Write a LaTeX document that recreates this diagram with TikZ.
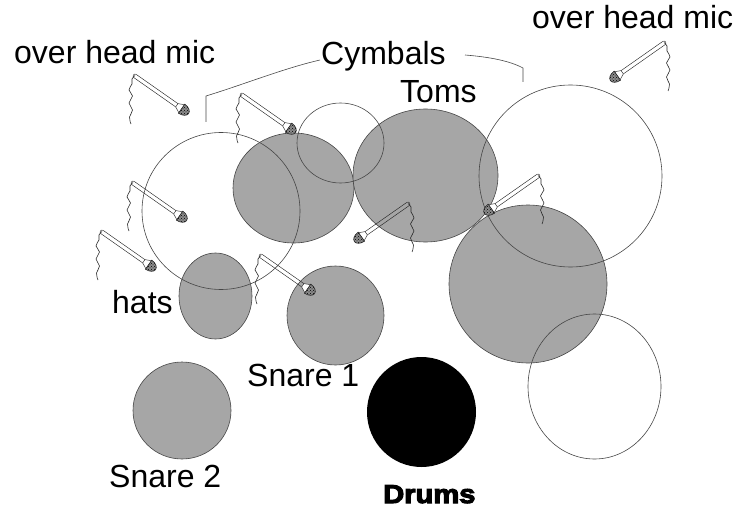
\documentclass[tikz,border=0pt]{standalone}
\usepackage{fontspec}
\setmainfont{Liberation Sans}
\newfontfamily\heavyfont[FakeBold=4]{Liberation Sans Bold}
\usetikzlibrary{shapes.geometric,patterns}
\definecolor{drumgray}{RGB}{166,166,166}
\definecolor{edgegray}{RGB}{70,70,70}
\tikzset{
  drumfill/.style={ellipse, draw=edgegray, line width=0.6pt, fill=drumgray, inner sep=0pt},
  kick/.style={ellipse, fill=black, inner sep=0pt},
  cymbal/.style={ellipse, draw=edgegray, line width=0.6pt, inner sep=0pt},
  lbl/.style={inner sep=0pt, anchor=base west, font=\fontsize{32}{38}\selectfont},
  bracket/.style={draw=edgegray, line width=0.6pt},
  micline/.style={draw=black!85, line width=0.45pt},
  cable/.style={draw=black!85, line width=0.6pt},
  pics/mic/.style={code={
    \begin{scope}[rotate=-35]
      \draw[micline] (51,-2) -- (0,-2) .. controls (-2.5,-2) and (-2.5,2) .. (0,2) -- (51,2);
      \draw[micline, fill=white] (51,-2) .. controls (54,-2.3) and (55,-5) .. (57,-5) -- (57,5) .. controls (55,5) and (54,2.3) .. (51,2) -- cycle;
      \fill[black!45] (57,-5.5) .. controls (62,-5.5) and (65.5,-2.8) .. (65.5,0) .. controls (65.5,2.8) and (62,5.5) .. (57,5.5) -- cycle;
      \fill[pattern=crosshatch dots, pattern color=black] (57,-5.5) .. controls (62,-5.5) and (65.5,-2.8) .. (65.5,0) .. controls (65.5,2.8) and (62,5.5) .. (57,5.5) -- cycle;
      \draw[micline, line width=0.6pt] (57,-5.5) .. controls (62,-5.5) and (65.5,-2.8) .. (65.5,0) .. controls (65.5,2.8) and (62,5.5) .. (57,5.5) -- cycle;
    \end{scope}
    \draw[cable] plot[smooth, tension=0.8] coordinates {(0,-0.5) (-3,3) (-3,8) (-6,14) (-2.5,20) (-6,27) (-2.5,34) (-5.5,41) (-4,48)};
  }}
}
\begin{document}
\begin{tikzpicture}[x=1pt,y=-1pt]
\useasboundingbox (0,0) rectangle (736,508);
% filled drums
\node[drumfill, minimum width=121pt, minimum height=110pt] (tomL) at (293.5,188) {};
\node[drumfill, minimum width=145pt, minimum height=133pt] (tomC) at (425.5,175.5) {};
\node[drumfill, minimum width=158pt, minimum height=158pt] (tomF) at (528,284) {};
\node[drumfill, minimum width=73pt, minimum height=86pt] (hats) at (215.5,296) {};
\node[drumfill, minimum width=97pt, minimum height=99pt] (snare1) at (335.5,315.5) {};
\node[drumfill, minimum width=98pt, minimum height=97pt] (snare2) at (182,410.5) {};
\node[kick, minimum width=109pt, minimum height=110pt] (kick) at (421.5,412) {};
% cymbals (outlines)
\node[cymbal, minimum width=158pt, minimum height=157pt] (cymL) at (221,211) {};
\node[cymbal, minimum width=87pt, minimum height=80pt] (cymS) at (340.5,143) {};
\node[cymbal, minimum width=183pt, minimum height=182pt] (cymR) at (570.5,176) {};
\node[cymbal, minimum width=133pt, minimum height=145pt] (cymB) at (594.5,386.5) {};
% labels
\node[lbl] (ohL) at (14,64) {over head mic};
\node[lbl] (ohR) at (532,29) {over head mic};
\node[lbl] (cym) at (321,65) {Cymbals};
\node[lbl] (toms) at (400,103) {Toms};
\node[lbl] (hatsl) at (112,313) {hats};
\node[lbl] (sn1) at (247,386) {Snare 1};
\node[lbl] (sn2) at (109,487) {Snare 2};
\node[inner sep=0pt, anchor=base west] (drums) at (383,503) {\scalebox{1.12}[1]{\heavyfont\fontsize{26}{30}\selectfont Drums}};
% cymbal brackets
\coordinate (bl0) at (206,122);
\coordinate (bl1) at (206,96);
\coordinate (bl2) at (320,60);
\coordinate (br0) at (465,55);
\coordinate (br1) at (523,68);
\coordinate (br2) at (523,82);
\draw[bracket] (bl0) -- (bl1) .. controls (245,84) and (285,68) .. (bl2);
\draw[bracket] (br0) .. controls (490,57) and (510,61) .. (br1) -- (br2);
% microphones
\pic (m1) at (135,76) {mic};
\pic (m2) at (242,95) {mic};
\pic (m3) at (133,183) {mic};
\pic (m4) at (102,232) {mic};
\pic (m5) at (261,256) {mic};
\pic[xscale=-1] (m6) at (408,204) {mic};
\pic[xscale=-1] (m7) at (538,176) {mic};
\pic[xscale=-1] (m8) at (664,43) {mic};
\end{tikzpicture}
\end{document}
